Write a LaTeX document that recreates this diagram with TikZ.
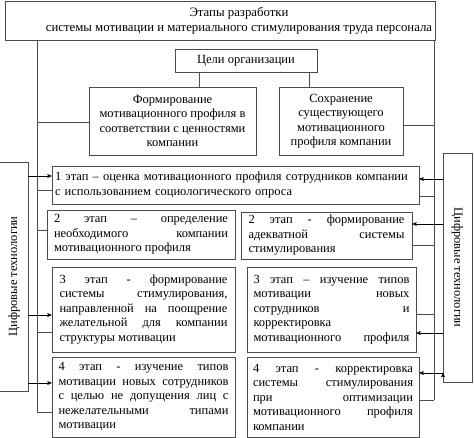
\documentclass[tikz,border=0pt]{standalone}
\usepackage{fontspec}
\setmainfont{Liberation Serif}
\usepackage{tikz}
\usetikzlibrary{arrows}
\hyphenpenalty=10000
\tolerance=10000

\begin{document}
\begin{tikzpicture}[>=stealth', x=1pt, y=-1pt, line width=0.6pt, draw=black!70,
        box/.style={draw=black!70, line width=0.8pt, rectangle, inner xsep=5pt, inner ysep=2pt,
                font=\fontsize{12.5}{14.5}\selectfont},
        stagebox/.style={box, align=justify, text width=#1},
        sidebox/.style={box, minimum width=29pt, minimum height=229pt}]

        \useasboundingbox (0,0) rectangle (474,438);

        % header
        \node[box, minimum width=430pt, minimum height=39pt] (T) at (220,20.5) {};
        \node[font=\fontsize{12.8}{15}\selectfont, align=center] (Tt) at (239,21)
                {Этапы разработки\\ системы мотивации и материального стимулирования труда персонала};
        \node[box, minimum width=142pt, minimum height=23pt] (G) at (246,60.5) {Цели организации};
        \node[box, align=center, minimum width=167pt, minimum height=68pt] (F) at (172.5,121)
                {Формирование\\ мотивационного профиля в\\ соответствии с ценностями\\ компании};
        \node[box, align=center, minimum width=124pt, minimum height=68pt] (K) at (341,121)
                {Сохранение\\ существующего\\ мотивационного\\ профиля компании};

        % stages
        \node[box, align=left, inner xsep=3pt, text width=361pt, minimum width=367pt, minimum height=38pt] (E1) at (235.5,185)
                {1 этап – оценка мотивационного профиля сотрудников компании\\ с использованием социологического опроса};
        \node[stagebox=174pt, minimum width=188pt, minimum height=49pt] (E2L) at (141,234.5)
                {2 этап – определение\linebreak необходимого компании\linebreak мотивационного профиля};
        \node[stagebox=156pt, minimum width=171pt, minimum height=47pt] (E2R) at (326.5,235.5)
                {2 этап - формирование\linebreak адекватной системы\linebreak стимулирования};
        \node[stagebox=168pt, minimum width=183pt, minimum height=85pt] (E3L) at (143.5,309.5)
                {3 этап - формирование\linebreak системы стимулирования,\linebreak направленной на поощрение\linebreak желательной для компании\linebreak структуры мотивации};
        \node[stagebox=156pt, minimum width=169pt, minimum height=85pt] (E3R) at (331.5,309.5)
                {3 этап – изучение типов\linebreak мотивации новых\linebreak сотрудников и\linebreak корректировка\linebreak мотивационного\hfill профиля};
        \node[stagebox=170pt, minimum width=183pt, minimum height=80pt] (E4L) at (143.5,397)
                {4 этап - изучение типов\linebreak мотивации новых сотрудников\linebreak с целью не допущения лиц с\linebreak нежелательными типами\linebreak мотивации};
        \node[stagebox=160pt, minimum width=172pt, minimum height=80pt] (E4R) at (333,397)
                {4 этап - корректировка\linebreak системы стимулирования\linebreak при оптимизации\linebreak мотивационного профиля\linebreak компании};

        % digital technologies
        \node[sidebox] (DL) at (14,276.5) {\rotatebox{90}{Цифровые технологии}};
        \node[sidebox] (DR) at (457.5,267.5) {\rotatebox{-90}{Цифровые технологии}};

        % bus points
        \coordinate (g1) at (199,0);
        \coordinate (g2) at (309,0);
        \coordinate (l1) at (37,122);
        \coordinate (l2) at (37,190);
        \coordinate (l3) at (37,230);
        \coordinate (l4) at (37,332);
        \coordinate (l5) at (37,412);
        \coordinate (r1) at (434,125);
        \coordinate (r2) at (434,196);
        \coordinate (r3) at (434,245);
        \coordinate (r4) at (434,314);
        \coordinate (r5) at (434,400);
        \coordinate (a1) at (28,176);
        \coordinate (a2) at (28,315);
        \coordinate (a3) at (28,383);
        \coordinate (b1) at (443,179);
        \coordinate (b2) at (443,224);
        \coordinate (b3) at (443,333);
        \coordinate (b4) at (443,373);

        \path[draw=black!70] (G.south -| g1) edge (F.north -| g1)
              (G.south -| g2) edge (K.north -| g2)
              (T.south -| l5) edge (l5)
              (T.south -| r5) edge (r5)
              (l1) edge (l1 -| F.west)
              (l2) edge (l2 -| E1.west)
              (l3) edge (l3 -| E2L.west)
              (l4) edge (l4 -| E3L.west)
              (l5) edge (l5 -| E4L.west)
              (r1) edge (r1 -| K.east)
              (r2) edge (r2 -| E1.east)
              (r3) edge (r3 -| E2R.east)
              (r4) edge (r4 -| E3R.east)
              (r5) edge (r5 -| E4R.east);

        \path[->, draw=black] (a1) edge (a1 -| E1.west)
              (a2) edge (a2 -| E3L.west)
              (a3) edge (a3 -| E4L.west)
              (b1) edge (b1 -| E1.east)
              (b2) edge (b2 -| E2R.east)
              (b3) edge (b3 -| E3R.east)
              (b4) edge (b4 -| E4R.east);

\end{tikzpicture}
\end{document}
